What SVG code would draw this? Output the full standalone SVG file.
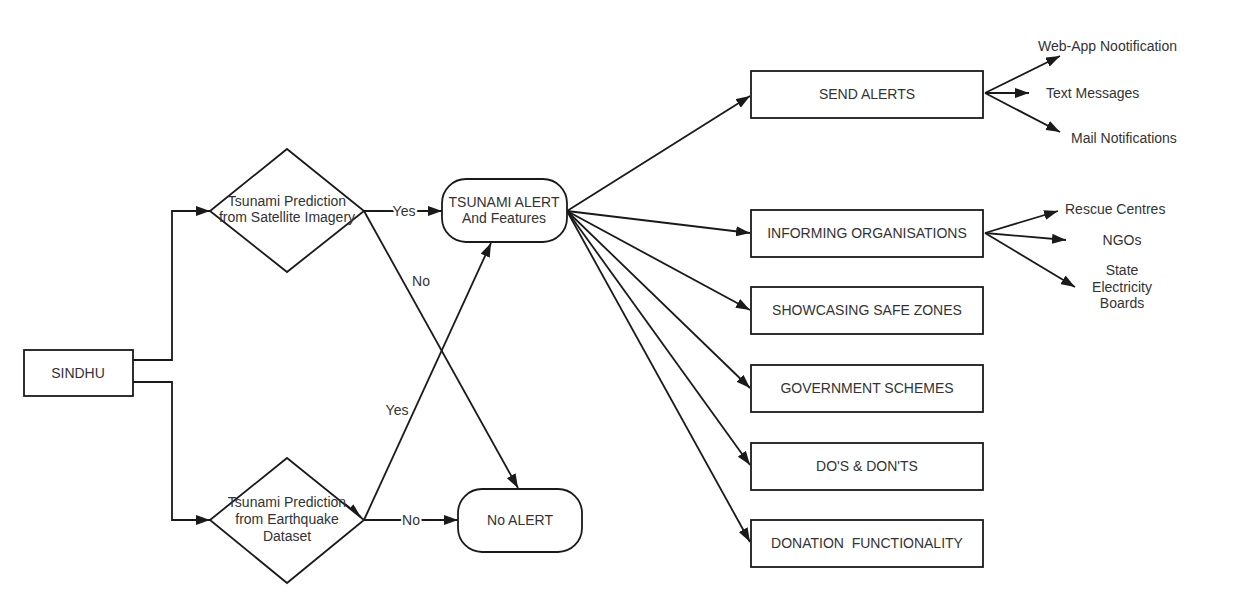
<svg xmlns="http://www.w3.org/2000/svg" width="1238" height="607" viewBox="0 0 1238 607">
<style>
.n{fill:#fff;stroke:#1a1a1a;stroke-width:1.8}
.c{fill:none;stroke:#1a1a1a;stroke-width:1.8}
.a{marker-end:url(#ar)}
text{font-family:"Liberation Sans",Arial,sans-serif;font-size:14px;fill:#333;text-anchor:middle}
.l{text-anchor:start}
.lb{stroke:#fff;stroke-width:4;paint-order:stroke}
</style>
<defs>
<marker id="ar" markerUnits="userSpaceOnUse" markerWidth="14" markerHeight="10" refX="14" refY="5" orient="auto">
<path d="M0,0 L14,5 L0,10 z" fill="#1a1a1a"/>
</marker>
</defs>
<rect width="1238" height="607" fill="#fff"/>
<g id="connectors">
<polyline class="c a" points="133,360 172,360 172,211 210,211"/>
<polyline class="c a" points="133,382 172,382 172,520 210,520"/>
<line class="c a" x1="364" y1="211" x2="442" y2="211"/>
<line class="c a" x1="364" y1="211" x2="518" y2="488"/>
<line class="c a" x1="364" y1="520" x2="491" y2="243"/>
<line class="c a" x1="364" y1="520" x2="458" y2="520"/>
<line class="c a" x1="345" y1="504" x2="361" y2="517"/>
<line class="c a" x1="567" y1="211" x2="750" y2="96"/>
<line class="c a" x1="567" y1="211" x2="750" y2="233"/>
<line class="c a" x1="567" y1="211" x2="750" y2="310"/>
<line class="c a" x1="567" y1="211" x2="750" y2="388"/>
<line class="c a" x1="567" y1="211" x2="750" y2="465"/>
<line class="c a" x1="567" y1="211" x2="750" y2="542"/>
<line class="c a" x1="985" y1="93" x2="1060" y2="56"/>
<line class="c a" x1="985" y1="93" x2="1029" y2="93"/>
<line class="c a" x1="985" y1="93" x2="1060" y2="132"/>
<line class="c a" x1="985" y1="233" x2="1058" y2="211"/>
<line class="c a" x1="985" y1="233" x2="1066" y2="240"/>
<line class="c a" x1="985" y1="233" x2="1075" y2="287"/>
<text class="lb" x="404" y="216">Yes</text>
<text class="lb" x="411" y="525">No</text>
<text x="421" y="286">No</text>
<text x="397" y="415">Yes</text>
</g>
<g id="sindhu"><rect class="n" x="24" y="350" width="109" height="46"/><text x="78" y="378">SINDHU</text></g>
<g id="pred-satellite"><polygon class="n" points="287,149 364,211 287,272 210,211"/><text x="287" y="206">Tsunami Prediction</text><text x="287" y="222">from Satellite Imagery</text></g>
<g id="pred-earthquake"><polygon class="n" points="287,458 364,520 287,583 210,520"/><text x="287" y="507">Tsunami Prediction</text><text x="287" y="524">from Earthquake</text><text x="287" y="541">Dataset</text></g>
<g id="tsunami-alert"><rect class="n" x="442" y="179" width="125" height="63" rx="24"/><text x="504" y="207">TSUNAMI ALERT</text><text x="504" y="223">And Features</text></g>
<g id="no-alert"><rect class="n" x="458" y="489" width="124" height="63" rx="24"/><text x="520" y="525">No ALERT</text></g>
<g id="send-alerts"><rect class="n" x="751" y="71" width="232" height="47"/><text x="867" y="99">SEND ALERTS</text></g>
<g id="informing"><rect class="n" x="751" y="210" width="232" height="47"/><text x="867" y="238">INFORMING ORGANISATIONS</text></g>
<g id="safe-zones"><rect class="n" x="751" y="287" width="232" height="47"/><text x="867" y="315">SHOWCASING SAFE ZONES</text></g>
<g id="schemes"><rect class="n" x="751" y="365" width="232" height="47"/><text x="867" y="393">GOVERNMENT SCHEMES</text></g>
<g id="dos-donts"><rect class="n" x="751" y="443" width="232" height="47"/><text x="867" y="471">DO'S &amp; DON'TS</text></g>
<g id="donation"><rect class="n" x="751" y="520" width="232" height="47"/><text x="867" y="548" style="white-space:pre">DONATION  FUNCTIONALITY</text></g>
<g id="web-app"><text class="l" x="1038" y="51">Web-App Nootification</text></g>
<g id="text-msg"><text class="l" x="1046" y="98">Text Messages</text></g>
<g id="mail"><text class="l" x="1071" y="143">Mail Notifications</text></g>
<g id="rescue"><text class="l" x="1065" y="214">Rescue Centres</text></g>
<g id="ngos"><text x="1122" y="245">NGOs</text></g>
<g id="state-boards"><text x="1122" y="275">State</text><text x="1122" y="292">Electricity</text><text x="1122" y="308">Boards</text></g>
</svg>
